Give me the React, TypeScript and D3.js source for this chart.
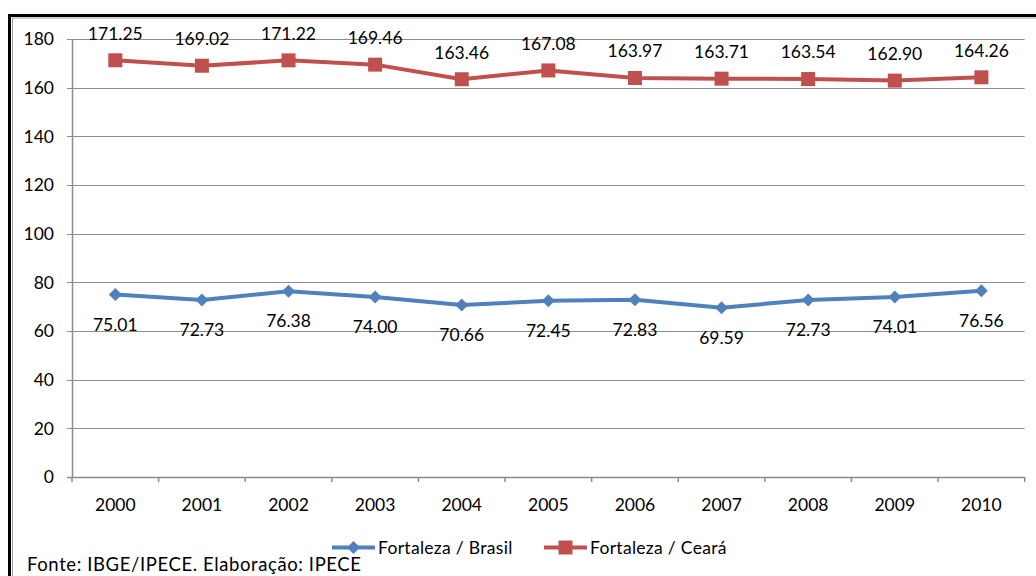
import React from "react";
import * as d3 from "d3";

const years = ["2000", "2001", "2002", "2003", "2004", "2005", "2006", "2007", "2008", "2009", "2010"];
const brasil = [75.01, 72.73, 76.38, 74.0, 70.66, 72.45, 72.83, 69.59, 72.73, 74.01, 76.56];
const ceara = [171.25, 169.02, 171.22, 169.46, 163.46, 167.08, 163.97, 163.71, 163.54, 162.9, 164.26];
const yTicks = [0, 20, 40, 60, 80, 100, 120, 140, 160, 180];
const seriesNames = ["Fortaleza / Brasil", "Fortaleza / Ceará"];
const sourceText = "Fonte: IBGE/IPECE. Elaboração: IPECE";

const W = 1036;
const H = 576;
const BLUE = "#4F81BD";
const RED = "#C0504D";
const GRID = "#8c8c8c";
const FONT = "Lato, 'Open Sans', sans-serif";
const FS = 17.5;

export default function App() {
  const x = d3.scaleBand<string>().domain(years).range([72, 1024.7]).paddingInner(0).paddingOuter(0);
  const y = d3.scaleLinear().domain([0, 180]).range([477, 39]);
  const cx = (yr: string) => (x(yr) as number) + x.bandwidth() / 2;

  const line = d3
    .line<number>()
    .x((_, i) => cx(years[i]))
    .y((d) => y(d));

  const diamond = (px: number, py: number, r: number) =>
    `M${px},${py - r}L${px + r},${py}L${px},${py + r}L${px - r},${py}Z`;

  const boundaries = years.map((yr) => x(yr) as number).concat([x.range()[1]]);

  return (
    <svg
      width={W}
      height={H}
      style={{ position: "absolute", left: 0, top: 0, background: "#fff" }}
      fontFamily={FONT}
    >
      <rect x={0} y={0} width={W} height={H} fill="#fff" />
      {/* frame */}
      <rect x={9.5} y={15.5} width={W + 20} height={H + 20} fill="none" stroke="#000" strokeWidth={3} />
      <rect x={12.5} y={18} width={W + 20} height={H + 20} fill="none" stroke="#a0a0a0" strokeWidth={1} />

      {/* gridlines */}
      {yTicks.map((t) => (
        <line key={"g" + t} x1={67} x2={x.range()[1]} y1={Math.round(y(t)) + 0.5} y2={Math.round(y(t)) + 0.5} stroke={GRID} strokeWidth={t === 0 ? 1.5 : 1} />
      ))}
      {/* y axis */}
      <line x1={72.5} x2={72.5} y1={y(180)} y2={y(0)} stroke={GRID} strokeWidth={1.5} />
      {/* x ticks */}
      {boundaries.map((b, i) => (
        <line key={"xt" + i} x1={b} x2={b} y1={y(0)} y2={y(0) + 5} stroke={GRID} strokeWidth={1.5} />
      ))}
      {/* y labels */}
      {yTicks.map((t) => (
        <text key={"yl" + t} x={54} y={y(t)} dy="0.36em" textAnchor="end" fontSize={FS} fill="#000">
          {t}
        </text>
      ))}
      {/* x labels */}
      {years.map((yr) => (
        <text key={"xl" + yr} x={cx(yr)} y={505} dy="0.36em" textAnchor="middle" fontSize={FS} fill="#000">
          {yr}
        </text>
      ))}

      {/* series lines */}
      <path d={line(brasil) || ""} fill="none" stroke={BLUE} strokeWidth={4} strokeLinejoin="round" />
      <path d={line(ceara) || ""} fill="none" stroke={RED} strokeWidth={4} strokeLinejoin="round" />

      {/* markers */}
      {brasil.map((v, i) => (
        <path key={"bm" + i} d={diamond(cx(years[i]), y(v), 6.5)} fill={BLUE} />
      ))}
      {ceara.map((v, i) => (
        <rect key={"cm" + i} x={cx(years[i]) - 7} y={y(v) - 7} width={14} height={14} fill={RED} />
      ))}

      {/* data labels */}
      {brasil.map((v, i) => (
        <text key={"bl" + i} x={cx(years[i])} y={y(v) + 30} dy="0.36em" textAnchor="middle" fontSize={FS} fill="#000">
          {v.toFixed(2)}
        </text>
      ))}
      {ceara.map((v, i) => (
        <text key={"cl" + i} x={cx(years[i])} y={y(v) - 27} dy="0.36em" textAnchor="middle" fontSize={FS} fill="#000">
          {v.toFixed(2)}
        </text>
      ))}

      {/* legend */}
      <line x1={332} x2={375} y1={547.5} y2={547.5} stroke={BLUE} strokeWidth={4} />
      <path d={diamond(353.5, 547.5, 6.5)} fill={BLUE} />
      <text x={378} y={547.5} dy="0.36em" fontSize={FS} fill="#000" letterSpacing={0.3}>
        {seriesNames[0]}
      </text>
      <line x1={544} x2={587} y1={547.5} y2={547.5} stroke={RED} strokeWidth={4} />
      <rect x={558.5} y={540.5} width={14} height={14} fill={RED} />
      <text x={590} y={547.5} dy="0.36em" fontSize={FS} fill="#000" letterSpacing={0.3}>
        {seriesNames[1]}
      </text>

      {/* source */}
      <text x={27} y={571} fontSize={18.5} fill="#000" letterSpacing={0.6}>
        {sourceText}
      </text>
    </svg>
  );
}
